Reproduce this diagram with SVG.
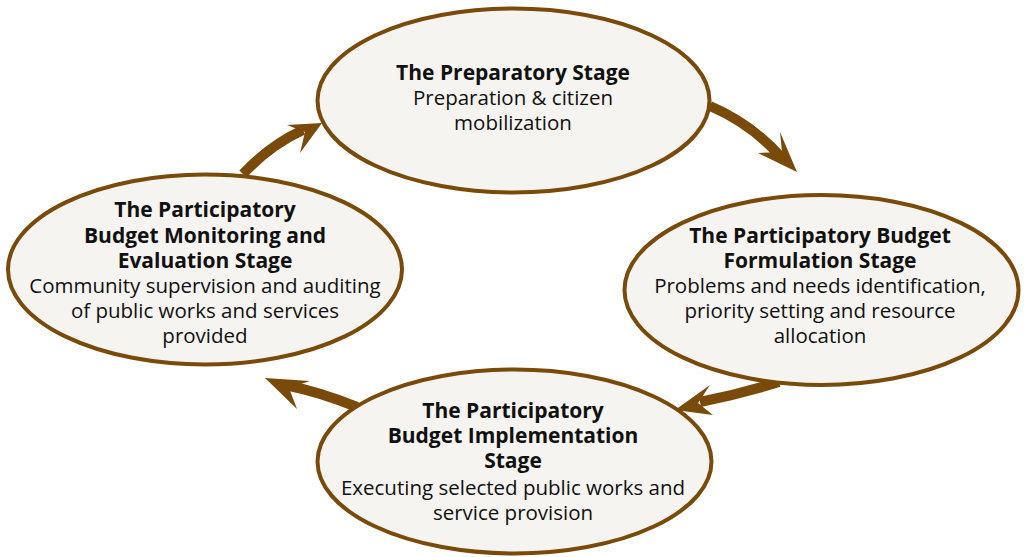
<svg xmlns="http://www.w3.org/2000/svg" width="1024" height="557" viewBox="0 0 1024 557">
<style>
.node ellipse{fill:#f5f4f0;stroke:#7a4a0a;stroke-width:4}
text{font-family:"Open Sans","Liberation Sans",sans-serif;font-size:20.5px;fill:#111;text-anchor:middle}
.b{font-weight:bold;font-size:21px}
.shaft{fill:none;stroke:#7a4a0a;stroke-width:10}
.head{fill:#7a4a0a}
</style>
<rect width="1024" height="557" fill="#fff"/>
<g id="connectors">
<path class="shaft" d="M710,106 Q752,124 782,158"/>
<polygon class="head" points="797,172 780,132 782,152 758,153"/>
<path class="shaft" d="M779,382 Q740,394 700,402"/>
<polygon class="head" points="675,410 710,385 698,403 713,415"/>
<path class="shaft" d="M357,407 Q320,392 285,385"/>
<polygon class="head" points="265,378 310,381 289,388 297,409"/>
<path class="shaft" d="M243,174 Q270,145 303,130"/>
<polygon class="head" points="322,123 287,125 305,132 300,153"/>
</g>
<g id="n1" class="node">
<ellipse cx="513.5" cy="100.5" rx="196" ry="92"/>
<text class="b" x="513" y="80">The Preparatory Stage</text>
<text x="513" y="105">Preparation &amp; citizen</text>
<text x="513" y="130">mobilization</text>
</g>
<g id="n2" class="node">
<ellipse cx="821.5" cy="290" rx="197" ry="95"/>
<text class="b" x="820" y="243">The Participatory Budget</text>
<text class="b" x="820" y="268">Formulation Stage</text>
<text x="820" y="293">Problems and needs identification,</text>
<text x="820" y="318">priority setting and resource</text>
<text x="820" y="343">allocation</text>
</g>
<g id="n3" class="node">
<ellipse cx="514.5" cy="461.5" rx="197" ry="92"/>
<text class="b" x="513" y="418">The Participatory</text>
<text class="b" x="513" y="443">Budget Implementation</text>
<text class="b" x="513" y="468">Stage</text>
<text x="513" y="495">Executing selected public works and</text>
<text x="513" y="520">service provision</text>
</g>
<g id="n4" class="node">
<ellipse cx="205" cy="269.5" rx="197" ry="95"/>
<text class="b" x="205" y="217">The Participatory</text>
<text class="b" x="205" y="243">Budget Monitoring and</text>
<text class="b" x="205" y="268">Evaluation Stage</text>
<text x="205" y="293">Community supervision and auditing</text>
<text x="205" y="318">of public works and services</text>
<text x="205" y="343">provided</text>
</g>
</svg>
